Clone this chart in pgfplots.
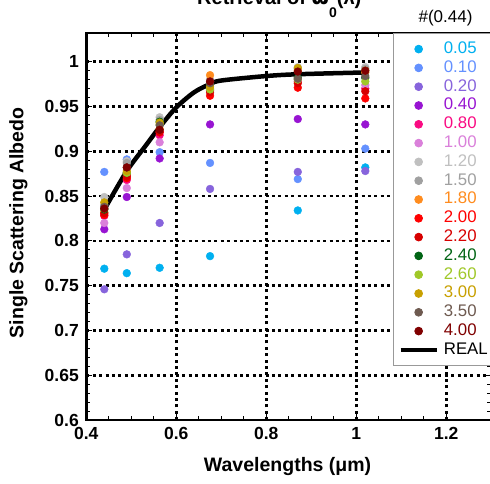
\documentclass[border=0pt]{standalone}
\usepackage{pgfplots}
\pgfplotsset{compat=1.18}
\usepackage{pgfplotstable}
\usepackage{fontspec}
\setmainfont{Liberation Sans}
\newfontfamily\dvsans{DejaVu Sans}

% marker colours, one per size parameter
\definecolor{c005}{RGB}{0,176,240}
\definecolor{c010}{RGB}{100,145,255}
\definecolor{c020}{RGB}{135,100,220}
\definecolor{c040}{RGB}{152,20,210}
\definecolor{c080}{RGB}{250,10,130}
\definecolor{c100}{RGB}{218,128,218}
\definecolor{c120}{RGB}{192,192,192}
\definecolor{c150}{RGB}{160,160,160}
\definecolor{c180}{RGB}{255,140,30}
\definecolor{c200}{RGB}{255,0,0}
\definecolor{c220}{RGB}{215,0,0}
\definecolor{c240}{RGB}{0,100,20}
\definecolor{c260}{RGB}{160,200,40}
\definecolor{c300}{RGB}{200,160,0}
\definecolor{c350}{RGB}{110,90,80}
\definecolor{c400}{RGB}{128,0,0}

% retrieved single scattering albedo at each wavelength
\pgfplotstableread{
wl     a005  a010  a020  a040  a080  a100  a120  a150  a180  a200  a220  a240  a260  a300  a350  a400
0.44   0.769 0.877 0.746 0.813 0.828 0.820 0.849 0.840 0.832 0.829 0.831 0.835 0.836 0.843 0.838 0.836
0.49   0.764 0.891 0.785 0.849 0.868 0.859 0.889 0.887 0.874 0.870 0.872 0.876 0.876 0.878 0.882 0.882
0.563  0.770 0.899 0.820 0.892 0.918 0.910 0.938 0.935 0.925 0.921 0.922 0.933 0.930 0.932 0.929 0.924
0.675  0.783 0.887 0.858 0.930 0.968 0.970 0.978 0.980 0.985 0.962 0.966 0.975 0.969 0.972 0.976 0.978
0.87   0.834 0.869 0.877 0.936 0.978 0.980 0.994 0.992 0.990 0.971 0.976 0.982 0.980 0.993 0.981 0.989
1.02   0.882 0.903 0.878 0.930 0.970 0.974 0.994 0.992 0.988 0.959 0.967 0.982 0.978 0.990 0.984 0.990
}\albedo

% true albedo spectrum
\pgfplotstableread{
wl     val
0.44   0.835
0.49   0.878
0.53   0.905
0.563  0.927
0.60   0.949
0.64   0.966
0.675  0.975
0.70   0.979
0.80   0.984
0.87   0.986
1.02   0.988
}\real

\newcommand\series[2]{%
  \addplot[only marks, mark=*, mark size=3.9pt, color=c#1] table[x=wl, y=a#1] {\albedo};
  \addlegendentry{\textcolor{c#1}{#2}}}

\begin{document}
\begin{tikzpicture}
\begin{axis}[
  at={(86.3pt,62.9pt)}, anchor=south west,
  scale only axis, width=405pt, height=386.8pt,
  xmin=0.4, xmax=1.3, ymin=0.6, ymax=1.0317,
  xtick={0.4,0.6,0.8,1,1.2},
  ytick={0.6,0.65,0.7,0.75,0.8,0.85,0.9,0.95,1},
  minor x tick num=3, minor y tick num=4,
  tick align=inside,
  major tick length=6pt, minor tick length=4pt,
  every tick/.style={black, line width=1pt},
  grid=major,
  major grid style={black, line width=2.6pt, dash pattern=on 3pt off 3.4pt},
  axis line style={black, line width=2.4pt},
  tick label style={font=\fontsize{17.5}{19}\selectfont\bfseries},
  xticklabel style={yshift=-4pt},
  yticklabel style={xshift=-4pt},
  /pgf/number format/assume math mode=true,
  xlabel={Wavelengths (μm)},
  xlabel style={font=\fontsize{19.5}{22}\selectfont\bfseries,
    at={(axis description cs:0.497,-0.121)}, anchor=center},
  ylabel={Single Scattering Albedo},
  ylabel style={font=\fontsize{19.5}{22}\selectfont\bfseries,
    at={(axis description cs:-0.168,0.51)}, anchor=center},
  legend style={at={(axis description cs:0.7573,1)}, anchor=north west,
    draw=gray!80, line width=0.8pt, fill=white,
    inner xsep=5pt, inner ysep=6pt, row sep=0pt, column sep=3pt,
    font=\fontsize{16.8}{18}\selectfont,
    nodes={inner sep=2pt, text height=11.8pt, text depth=3pt, text width=48pt}},
  legend cell align=left,
  legend image code/.code={\draw[mark repeat=2,mark phase=2,#1]
    plot coordinates {(0pt,0pt) (18pt,0pt) (36pt,0pt)};},
]
\addplot[black, line width=4.5pt, smooth, forget plot] table[x=wl, y=val] {\real};
\series{005}{0.05}
\series{010}{0.10}
\series{020}{0.20}
\series{040}{0.40}
\series{080}{0.80}
\series{100}{1.00}
\series{120}{1.20}
\series{150}{1.50}
\series{180}{1.80}
\series{200}{2.00}
\series{220}{2.20}
\series{240}{2.40}
\series{260}{2.60}
\series{300}{3.00}
\series{350}{3.50}
\series{400}{4.00}
\addlegendimage{black, line width=4.5pt}
\addlegendentry{REAL}
\end{axis}
\node[anchor=base west, inner sep=0pt, font=\fontsize{20}{22}\selectfont\bfseries] at (197pt,478pt)
  {Retrieval of {\dvsans ϖ}\raisebox{-0.62em}{\fontsize{14}{14}\selectfont 0}(λ)};
\node[anchor=center, font=\fontsize{17}{19}\selectfont] at (445.5pt,465pt) {\#(0.44)};
\pgfresetboundingbox
\path[use as bounding box] (0,0) rectangle (490pt,483pt);
\end{tikzpicture}
\end{document}
